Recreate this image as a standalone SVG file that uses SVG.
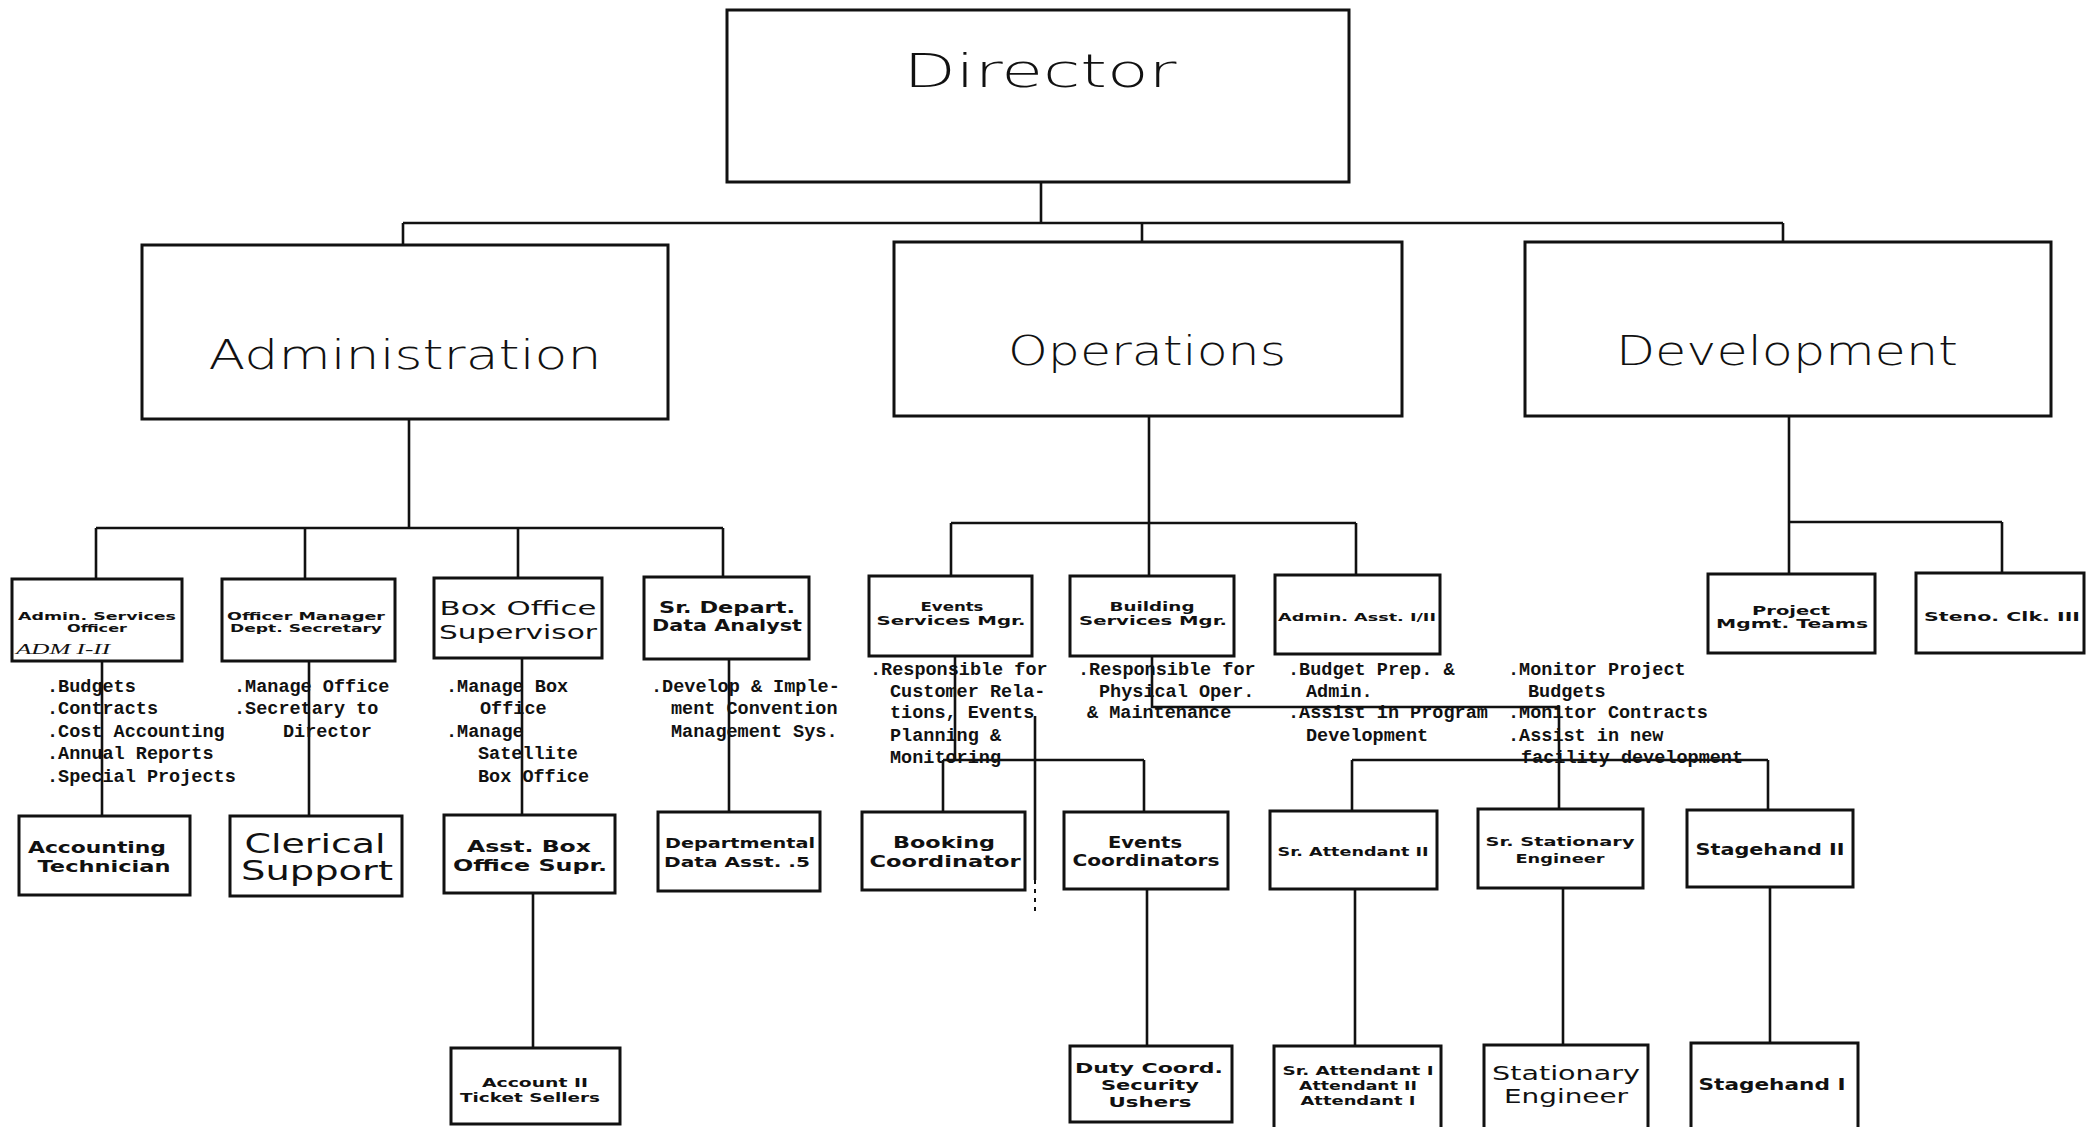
<svg xmlns="http://www.w3.org/2000/svg" width="2088" height="1127" viewBox="0 0 2088 1127">
<style>
.box{fill:#fff;stroke:#111;stroke-width:3}
.ln{fill:none;stroke:#111;stroke-width:2.6}
.dash{fill:none;stroke:#111;stroke-width:2;stroke-dasharray:4 5}
.hd{font-family:"DejaVu Sans","Liberation Sans",sans-serif;font-weight:300;fill:#111;text-anchor:middle}
.lb{font-family:"DejaVu Sans","Liberation Sans",sans-serif;font-weight:bold;fill:#111;text-anchor:middle}
.lm{font-family:"DejaVu Sans","Liberation Sans",sans-serif;font-weight:normal;fill:#111;text-anchor:middle}
.ds{font-family:"Liberation Mono","DejaVu Sans Mono",monospace;font-size:18.5px;font-weight:bold;fill:#111}
.hw{font-family:"Liberation Serif",serif;font-style:italic;font-size:15px;fill:#111}
</style>
<rect width="2088" height="1127" fill="#fff"/>
<g id="connectors">
<path class="ln" d="M1041,182 V223 M403,223 H1783 M403,223 V245 M1142,223 V242 M1783,223 V242"/>
<path class="ln" d="M409,419 V528 M96,528 H723 M96,528 V579 M305,528 V579 M518,528 V578 M723,528 V577"/>
<path class="ln" d="M1149,416 V576 M951,523 H1356 M951,523 V576 M1356,523 V575"/>
<path class="ln" d="M1789,416 V522 M1789,522 H2002 M1789,522 V574 M2002,522 V573"/>
<path class="ln" d="M102,661 V816 M309,661 V816 M522,658 V815 M729,659 V812 M533,893 V1048"/>
<path class="ln" d="M955,656 V760 M943,760 H1144 M943,760 V812 M1144,760 V812"/>
<path class="ln" d="M1035,716 V880"/>
<path class="dash" d="M1035,880 V912"/>
<path class="ln" d="M1152,656 V707 H1559 V809 M1352,760 H1768 M1352,760 V811 M1768,760 V810"/>
<path class="ln" d="M1147,889 V1046 M1355,889 V1046 M1563,888 V1045 M1770,887 V1043"/>
</g>
<g id="director"><rect class="box" x="727" y="10" width="622" height="172"/><text class="hd" x="1040" y="87" font-size="46" textLength="273" lengthAdjust="spacingAndGlyphs">Director</text></g>
<g id="administration"><rect class="box" x="142" y="245" width="526" height="174"/><text class="hd" x="405" y="369" font-size="40" textLength="393" lengthAdjust="spacingAndGlyphs">Administration</text></g>
<g id="operations"><rect class="box" x="894" y="242" width="508" height="174"/><text class="hd" x="1147" y="365" font-size="40" textLength="278" lengthAdjust="spacingAndGlyphs">Operations</text></g>
<g id="development"><rect class="box" x="1525" y="242" width="526" height="174"/><text class="hd" x="1787" y="365" font-size="40" textLength="342" lengthAdjust="spacingAndGlyphs">Development</text></g>

<g id="admin-services-officer"><rect class="box" x="12" y="579" width="170" height="82"/>
<text class="lb" x="97" y="620" font-size="11" textLength="158" lengthAdjust="spacingAndGlyphs">Admin. Services</text>
<text class="lb" x="97" y="632" font-size="11" textLength="60" lengthAdjust="spacingAndGlyphs">Officer</text>
<text class="hw" x="16" y="654" textLength="94" lengthAdjust="spacingAndGlyphs">ADM I-II</text></g>
<g id="office-manager"><rect class="box" x="222" y="579" width="173" height="82"/>
<text class="lb" x="306" y="620" font-size="11" textLength="158" lengthAdjust="spacingAndGlyphs">Officer Manager</text>
<text class="lb" x="306" y="632" font-size="11" textLength="152" lengthAdjust="spacingAndGlyphs">Dept. Secretary</text></g>
<g id="box-office-supervisor"><rect class="box" x="434" y="578" width="168" height="80"/>
<text class="lm" x="518" y="615" font-size="20" textLength="157" lengthAdjust="spacingAndGlyphs">Box Office</text>
<text class="lm" x="518" y="639" font-size="20" textLength="158" lengthAdjust="spacingAndGlyphs">Supervisor</text></g>
<g id="sr-depart-data-analyst"><rect class="box" x="644" y="577" width="165" height="82"/>
<text class="lb" x="727" y="613" font-size="15" textLength="136" lengthAdjust="spacingAndGlyphs">Sr. Depart.</text>
<text class="lb" x="727" y="631" font-size="15" textLength="150" lengthAdjust="spacingAndGlyphs">Data Analyst</text></g>
<g id="events-services-mgr"><rect class="box" x="869" y="576" width="163" height="80"/>
<text class="lb" x="952" y="611" font-size="12" textLength="63" lengthAdjust="spacingAndGlyphs">Events</text>
<text class="lb" x="951" y="625" font-size="12" textLength="149" lengthAdjust="spacingAndGlyphs">Services Mgr.</text></g>
<g id="building-services-mgr"><rect class="box" x="1070" y="576" width="164" height="80"/>
<text class="lb" x="1152" y="611" font-size="12" textLength="85" lengthAdjust="spacingAndGlyphs">Building</text>
<text class="lb" x="1153" y="625" font-size="12" textLength="148" lengthAdjust="spacingAndGlyphs">Services Mgr.</text></g>
<g id="admin-asst"><rect class="box" x="1275" y="575" width="165" height="79"/>
<text class="lb" x="1357" y="621" font-size="11" textLength="158" lengthAdjust="spacingAndGlyphs">Admin. Asst. I/II</text></g>
<g id="project-mgmt-teams"><rect class="box" x="1708" y="574" width="167" height="79"/>
<text class="lb" x="1791" y="615" font-size="12" textLength="78" lengthAdjust="spacingAndGlyphs">Project</text>
<text class="lb" x="1792" y="628" font-size="12" textLength="152" lengthAdjust="spacingAndGlyphs">Mgmt. Teams</text></g>
<g id="steno-clk"><rect class="box" x="1916" y="573" width="168" height="80"/>
<text class="lb" x="2002" y="621" font-size="13" textLength="156" lengthAdjust="spacingAndGlyphs">Steno. Clk. III</text></g>

<g id="duties">
<text class="ds" x="47" y="692">.Budgets</text>
<text class="ds" x="47" y="714">.Contracts</text>
<text class="ds" x="47" y="737">.Cost Accounting</text>
<text class="ds" x="47" y="759">.Annual Reports</text>
<text class="ds" x="47" y="782">.Special Projects</text>
<text class="ds" x="234" y="692">.Manage Office</text>
<text class="ds" x="234" y="714">.Secretary to</text>
<text class="ds" x="283" y="737">Director</text>
<text class="ds" x="446" y="692">.Manage Box</text>
<text class="ds" x="480" y="714">Office</text>
<text class="ds" x="446" y="737">.Manage</text>
<text class="ds" x="478" y="759">Satellite</text>
<text class="ds" x="478" y="782">Box Office</text>
<text class="ds" x="651" y="692">.Develop &amp; Imple-</text>
<text class="ds" x="671" y="714">ment Convention</text>
<text class="ds" x="671" y="737">Management Sys.</text>
<text class="ds" x="870" y="675">.Responsible for</text>
<text class="ds" x="890" y="697">Customer Rela-</text>
<text class="ds" x="890" y="718">tions, Events</text>
<text class="ds" x="890" y="741">Planning &amp;</text>
<text class="ds" x="890" y="763">Monitoring</text>
<text class="ds" x="1078" y="675">.Responsible for</text>
<text class="ds" x="1099" y="697">Physical Oper.</text>
<text class="ds" x="1087" y="718">&amp; Maintenance</text>
<text class="ds" x="1288" y="675">.Budget Prep. &amp;</text>
<text class="ds" x="1306" y="697">Admin.</text>
<text class="ds" x="1288" y="718">.Assist in Program</text>
<text class="ds" x="1306" y="741">Development</text>
<text class="ds" x="1508" y="675">.Monitor Project</text>
<text class="ds" x="1528" y="697">Budgets</text>
<text class="ds" x="1508" y="718">.Monitor Contracts</text>
<text class="ds" x="1508" y="741">.Assist in new</text>
<text class="ds" x="1521" y="763">facility development</text>
</g>

<g id="accounting-technician"><rect class="box" x="19" y="816" width="171" height="79"/>
<text class="lb" x="97" y="853" font-size="16" textLength="138" lengthAdjust="spacingAndGlyphs">Accounting</text>
<text class="lb" x="104" y="872" font-size="16" textLength="133" lengthAdjust="spacingAndGlyphs">Technician</text></g>
<g id="clerical-support"><rect class="box" x="230" y="816" width="172" height="80"/>
<text class="lm" x="315" y="853" font-size="27" textLength="141" lengthAdjust="spacingAndGlyphs">Clerical</text>
<text class="lm" x="317" y="880" font-size="27" textLength="152" lengthAdjust="spacingAndGlyphs">Support</text></g>
<g id="asst-box-office-supr"><rect class="box" x="444" y="815" width="171" height="78"/>
<text class="lb" x="529" y="852" font-size="15" textLength="124" lengthAdjust="spacingAndGlyphs">Asst. Box</text>
<text class="lb" x="530" y="871" font-size="15" textLength="154" lengthAdjust="spacingAndGlyphs">Office Supr.</text></g>
<g id="departmental-data-asst"><rect class="box" x="658" y="812" width="162" height="79"/>
<text class="lb" x="740" y="848" font-size="14" textLength="150" lengthAdjust="spacingAndGlyphs">Departmental</text>
<text class="lb" x="737" y="867" font-size="14" textLength="146" lengthAdjust="spacingAndGlyphs">Data Asst. .5</text></g>
<g id="booking-coordinator"><rect class="box" x="862" y="812" width="163" height="78"/>
<text class="lb" x="944" y="848" font-size="16" textLength="102" lengthAdjust="spacingAndGlyphs">Booking</text>
<text class="lb" x="945" y="867" font-size="16" textLength="151" lengthAdjust="spacingAndGlyphs">Coordinator</text></g>
<g id="events-coordinators"><rect class="box" x="1064" y="812" width="164" height="77"/>
<text class="lb" x="1145" y="848" font-size="15" textLength="74" lengthAdjust="spacingAndGlyphs">Events</text>
<text class="lb" x="1146" y="866" font-size="15" textLength="147" lengthAdjust="spacingAndGlyphs">Coordinators</text></g>
<g id="sr-attendant-ii"><rect class="box" x="1270" y="811" width="167" height="78"/>
<text class="lb" x="1353" y="856" font-size="12" textLength="151" lengthAdjust="spacingAndGlyphs">Sr. Attendant II</text></g>
<g id="sr-stationary-engineer"><rect class="box" x="1478" y="809" width="165" height="79"/>
<text class="lb" x="1560" y="846" font-size="13" textLength="149" lengthAdjust="spacingAndGlyphs">Sr. Stationary</text>
<text class="lb" x="1560" y="863" font-size="13" textLength="89" lengthAdjust="spacingAndGlyphs">Engineer</text></g>
<g id="stagehand-ii"><rect class="box" x="1687" y="810" width="166" height="77"/>
<text class="lb" x="1770" y="855" font-size="15" textLength="149" lengthAdjust="spacingAndGlyphs">Stagehand II</text></g>

<g id="account-ii-ticket-sellers"><rect class="box" x="451" y="1048" width="169" height="76"/>
<text class="lb" x="535" y="1087" font-size="13" textLength="106" lengthAdjust="spacingAndGlyphs">Account II</text>
<text class="lb" x="530" y="1102" font-size="13" textLength="140" lengthAdjust="spacingAndGlyphs">Ticket Sellers</text></g>
<g id="duty-coord-security-ushers"><rect class="box" x="1070" y="1046" width="162" height="76"/>
<text class="lb" x="1149" y="1073" font-size="14" textLength="148" lengthAdjust="spacingAndGlyphs">Duty Coord.</text>
<text class="lb" x="1150" y="1090" font-size="14" textLength="98" lengthAdjust="spacingAndGlyphs">Security</text>
<text class="lb" x="1150" y="1107" font-size="14" textLength="83" lengthAdjust="spacingAndGlyphs">Ushers</text></g>
<g id="sr-attendant-i"><rect class="box" x="1274" y="1046" width="167" height="100"/>
<text class="lb" x="1358" y="1075" font-size="12" textLength="151" lengthAdjust="spacingAndGlyphs">Sr. Attendant I</text>
<text class="lb" x="1358" y="1090" font-size="12" textLength="118" lengthAdjust="spacingAndGlyphs">Attendant II</text>
<text class="lb" x="1358" y="1105" font-size="12" textLength="115" lengthAdjust="spacingAndGlyphs">Attendant I</text></g>
<g id="stationary-engineer"><rect class="box" x="1484" y="1045" width="164" height="100"/>
<text class="lm" x="1566" y="1080" font-size="20" textLength="148" lengthAdjust="spacingAndGlyphs">Stationary</text>
<text class="lm" x="1566" y="1103" font-size="20" textLength="124" lengthAdjust="spacingAndGlyphs">Engineer</text></g>
<g id="stagehand-i"><rect class="box" x="1691" y="1043" width="167" height="100"/>
<text class="lb" x="1772" y="1090" font-size="15" textLength="147" lengthAdjust="spacingAndGlyphs">Stagehand I</text></g>
</svg>
